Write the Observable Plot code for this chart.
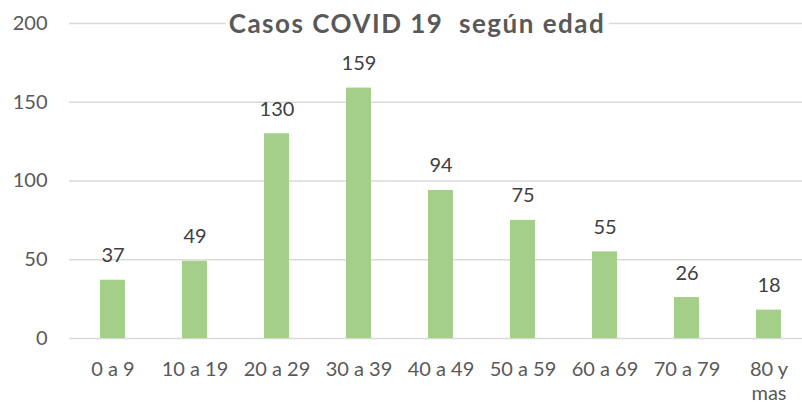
<!DOCTYPE html>
<html>
<head>
<meta charset="utf-8">
<script src="https://cdn.jsdelivr.net/npm/d3@7"></script>
<script src="https://cdn.jsdelivr.net/npm/@observablehq/plot@0.6"></script>
<style>
  html, body { margin: 0; padding: 0; background: white; }
  #wrap { position: relative; width: 802px; height: 407px; overflow: hidden; }
  #title {
    position: absolute; left: 417px; top: 8px; transform: translateX(-50%);
    font-family: Lato, "Open Sans", sans-serif; font-weight: bold; font-size: 26px;
    letter-spacing: 1.5px;
    color: #595959; background: white; white-space: pre; padding: 0 3px; line-height: 30px;
  }
</style>
</head>
<body>
<div id="wrap"><div id="title"></div></div>
<script>
const categories = ["0 a 9", "10 a 19", "20 a 29", "30 a 39", "40 a 49", "50 a 59", "60 a 69", "70 a 79", "80 y\nmas"];
const values = [37, 49, 130, 159, 94, 75, 55, 26, 18];
const yTicks = [0, 50, 100, 150, 200];
const titleText = "Casos COVID 19  según edad";

const data = categories.map((c, i) => ({cat: c, value: values[i]}));

const chart = Plot.plot({
  width: 802,
  height: 407,
  marginLeft: 69,
  marginRight: 0,
  marginTop: 23,
  marginBottom: 69,
  style: {fontFamily: "Lato, 'Open Sans', sans-serif", fontSize: "20px", color: "#595959", background: "white"},
  x: {domain: categories, range: [69, 812], paddingInner: 0.7, paddingOuter: 0.35, label: null},
  y: {domain: [0, 200], label: null},
  marks: [
    Plot.gridY(yTicks, {stroke: "#dadada", strokeOpacity: 1, strokeWidth: 1.5}),
    Plot.barY(data, {x: "cat", y: "value", fill: "#a3cf88"}),
    Plot.text(data, {x: "cat", y: "value", text: d => String(d.value), lineAnchor: "bottom", dy: -18, fill: "#404040", fontSize: 20}),
    Plot.axisX({tickSize: 0, tickPadding: 20, lineHeight: 1.2, fill: "#595959", fontSize: 20, label: null}),
    Plot.axisY(yTicks, {tickSize: 0, tickPadding: 22, fill: "#595959", fontSize: 20, label: null})
  ]
});
document.getElementById("wrap").insertBefore(chart, document.getElementById("title"));
document.getElementById("title").textContent = titleText;
</script>
</body>
</html>
